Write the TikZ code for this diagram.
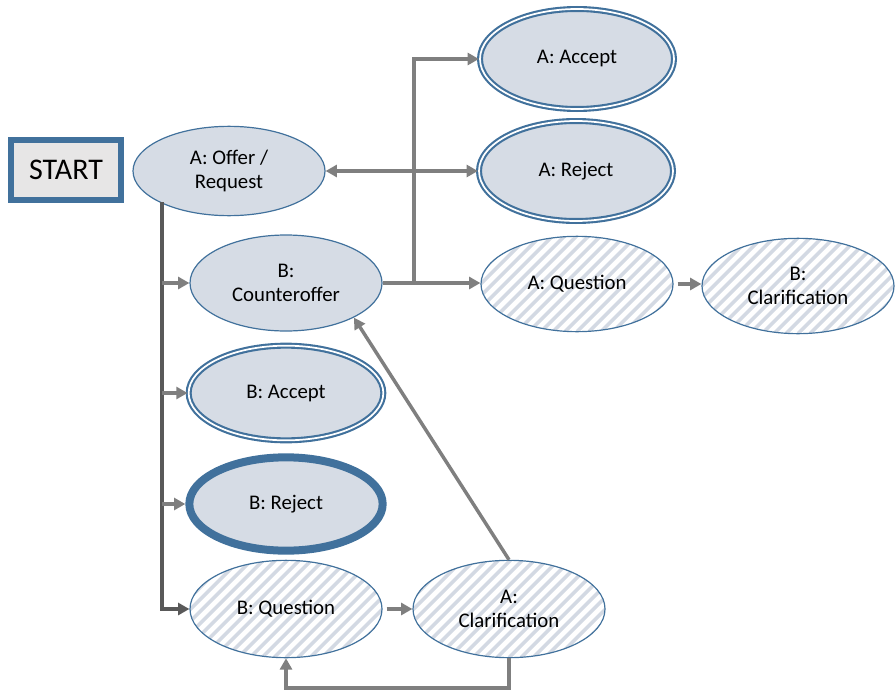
\documentclass[tikz,border=0pt]{standalone}
\usepackage{fontspec}
\setmainfont{Carlito}
\usetikzlibrary{shapes.geometric,arrows.meta}
\definecolor{bord}{HTML}{41719C}
\definecolor{efill}{HTML}{D6DCE5}
\definecolor{sfill}{HTML}{E7E6E6}
\definecolor{conn}{HTML}{7F7F7F}
\definecolor{trunkc}{HTML}{595959}
\definecolor{stripec}{HTML}{D3D9E3}
\tikzset{
  state/.style={ellipse, draw=bord, fill=efill, line width=0.9pt, inner sep=0pt,
    minimum width=144pt, minimum height=70pt, align=center,
    font=\fontsize{15.6}{18}\selectfont, text=black},
  finalst/.style={state, line width=1.6pt, double=white, double distance=1.3pt,
    minimum width=145.5pt, minimum height=75pt},
  rejst/.style={state, line width=6pt, minimum width=145pt, minimum height=70pt},
  hatched/.style={state, fill=white, path picture={
    \foreach \i in {-12,...,18}
      \draw[stripec, line width=2.6pt] ([xshift=\i*9pt]path picture bounding box.south west) -- ++(110pt,110pt);
  }},
  startst/.style={rectangle, draw=bord, fill=sfill, line width=4.5pt,
    minimum width=82.5pt, minimum height=45pt, inner sep=0pt,
    font=\fontsize{22.5}{24}\selectfont},
  tip/.style={-{Triangle[length=8.5pt,width=9pt]}},
  br/.style={draw=conn, line width=2.6pt},
  trunk/.style={draw=trunkc, line width=3.2pt},
}
\begin{document}
\begin{tikzpicture}[x=0.75pt,y=-0.75pt]
\useasboundingbox (0,0) rectangle (895,692);

\node[startst] (start) at (66,170) {START};
\node[state, minimum height=67pt] (offer) at (229,171) {A: Offer /\\Request};
\node[finalst] (accA) at (577,59) {A: Accept};
\node[finalst] (rejA) at (576,171) {A: Reject};
\node[state, minimum height=72pt] (counter) at (286,283) {B:\\Counteroffer};
\node[hatched, minimum height=71.5pt] (qA) at (577,284) {A: Question};
\node[hatched, minimum height=71.5pt] (clarB) at (798,286) {B:\\Clarification};
\node[finalst, minimum width=146pt, minimum height=71pt] (accB) at (286,393) {B: Accept};
\node[rejst] (rejB) at (286,504) {B: Reject};
\node[hatched, minimum height=73pt] (qB) at (286,609) {B: Question};
\node[hatched, minimum height=73pt] (clarA) at (509,609) {A:\\Clarification};

\coordinate (t) at (162,202);
\coordinate (j) at (414,283);
\coordinate (lb) at (0,688);

% trunk from A: Offer / Request
\draw[trunk, tip] (t) |- (qB.west);
\draw[br, tip] (t |- counter.west) -- (counter.west);
\draw[br, tip] (t |- accB.west) -- (accB.west);
\draw[br, tip] (t |- rejB.west) -- (rejB.west);

% from counteroffer
\draw[br, tip] (counter.east) -- (counter.east -| qA.west);
\draw[br, tip] (j) |- (accA.west);
\draw[br, {Triangle[length=8.5pt,width=9pt]}-{Triangle[length=8.5pt,width=9pt]}] (offer.east) -- (rejA.west);

% questions and clarifications
\draw[br, tip, shorten <=3pt] (qA.east) -- (qA.east -| clarB.west);
\draw[br, tip, shorten <=3pt] (qB.east) -- (clarA.west);
\draw[br, tip] (clarA.north) -- (counter.-27);
\draw[br, tip] (clarA.south) -- (clarA.south |- lb) -| (qB.south);
\end{tikzpicture}
\end{document}
